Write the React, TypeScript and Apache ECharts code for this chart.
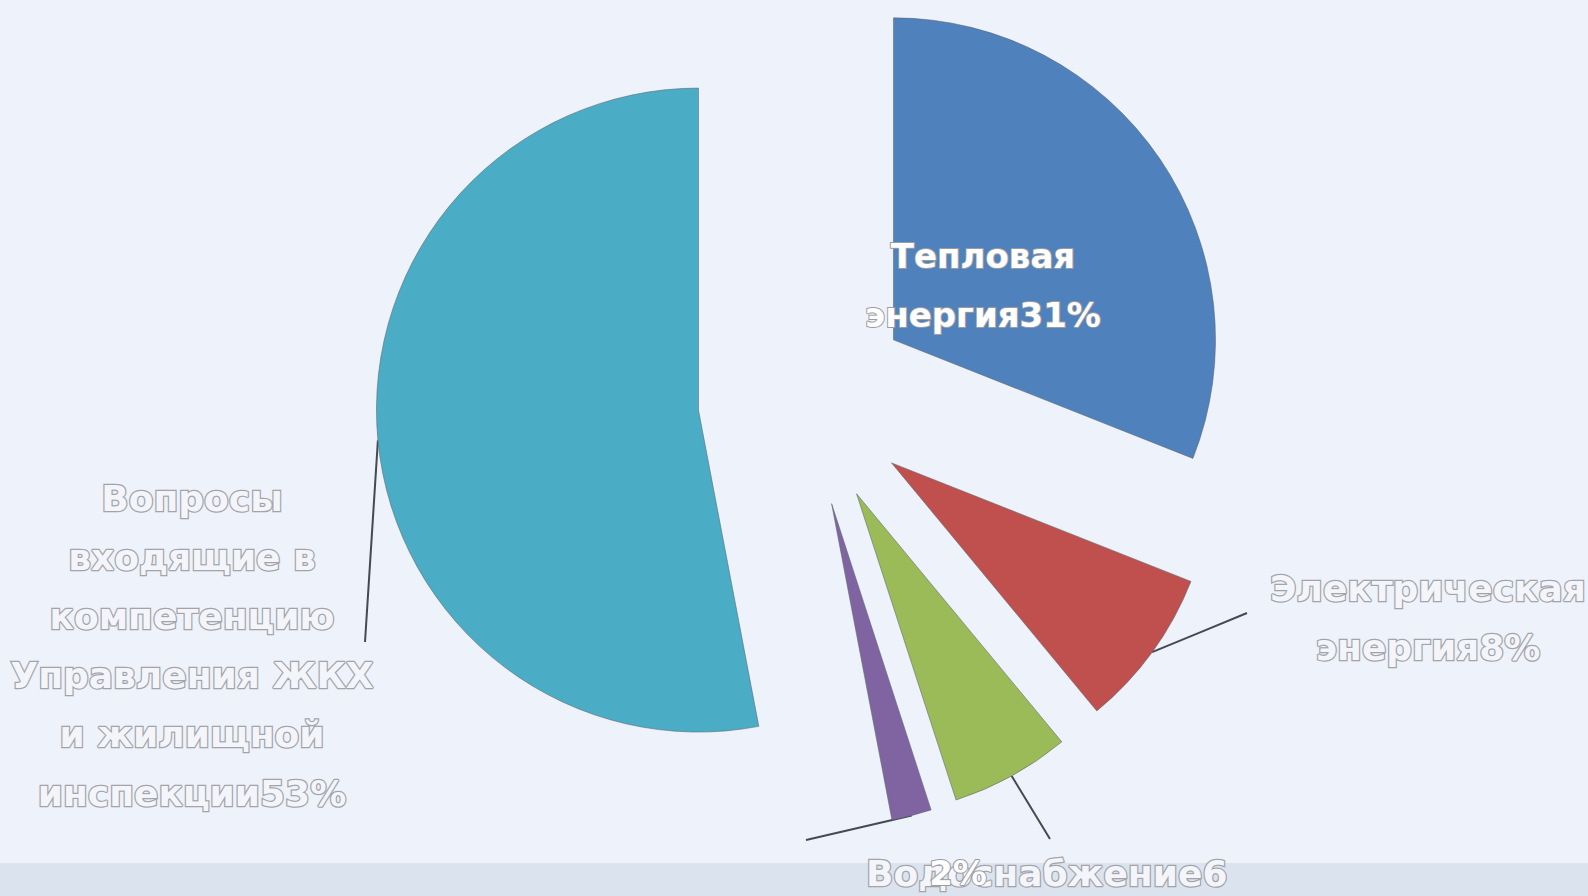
import React, { useEffect, useRef } from 'react';
import * as echarts from 'echarts';

const categories = [
  'Тепловая энергия',
  'Электрическая энергия',
  'Водоснабжение',
  'Водоотведение',
  'Вопросы входящие в компетенцию Управления ЖКХ и жилищной инспекции',
];
const values = [31, 8, 6, 2, 53];
const labelNames = [
  'Тепловая\nэнергия',
  'Электрическая\nэнергия',
  'Водоснабжение',
  '',
  'Вопросы\nвходящие в\nкомпетенцию\nУправления ЖКХ\nи жилищной\nинспекции',
];
// the source cuts the water label just before its percent sign
const labelSuffix = ['%', '%', '', '%', '%'];
const colors = ['#4f81bd', '#c0504d', '#9bbb59', '#8064a2', '#4bacc6'];

const CENTER = [805, 400];
const RADIUS = 322;
const OFFSET = 107;

// label placement (anchor, align) and leader line end points
const labelPos: { x: number; y: number; align: string }[] = [
  { x: 983, y: 285, align: 'center' },
  { x: 1428, y: 618, align: 'center' },
  { x: 866, y: 873, align: 'left' },
  { x: 958, y: 873, align: 'center' },
  { x: 192, y: 646, align: 'center' },
];
const lineEnds: (number[] | null)[] = [null, [1247, 613], [1050, 839], [806, 840], [365, 642]];

const FONT = 'DejaVu Sans';
const hollow = {
  color: '#f3f5fa',
  textBorderColor: '#a2a4a9',
  textBorderWidth: 2.5,
  fontFamily: FONT,
  fontWeight: 'bold' as const,
  fontSize: 36,
  lineHeight: 59,
};
const solid = {
  color: '#ffffff',
  textBorderColor: '#9a9ca2',
  textBorderWidth: 2,
  fontFamily: FONT,
  fontWeight: 'bold' as const,
  fontSize: 34,
  lineHeight: 59,
};

export default function App() {
  const ref = useRef<HTMLDivElement>(null);
  useEffect(() => {
    if (!ref.current) return;
    const chart = echarts.init(ref.current, undefined, { renderer: 'svg' });
    const total = values.reduce((a, b) => a + b, 0);
    const mids: number[] = [];
    let acc = 0;
    values.forEach((v) => {
      const a0 = (acc / total) * 2 * Math.PI;
      acc += v;
      const a1 = (acc / total) * 2 * Math.PI;
      mids.push((a0 + a1) / 2);
    });

    const series = categories.map((_, si) => {
      const m = mids[si];
      const cx = CENTER[0] + Math.sin(m) * OFFSET;
      const cy = CENTER[1] - Math.cos(m) * OFFSET;
      return {
        type: 'pie',
        center: [cx, cy],
        radius: RADIUS,
        startAngle: 90,
        clockwise: true,
        silent: true,
        avoidLabelOverlap: false,
        emphasis: { disabled: true },
        label: {
          show: false,
          formatter: (p: any) => `${labelNames[p.dataIndex]}${p.value}${labelSuffix[p.dataIndex]}`,
        },
        labelLine: { show: false, lineStyle: { color: '#454a52', width: 2 } },
        labelLayout: (p: any) => {
          const i = p.dataIndex;
          const lp = labelPos[i];
          const res: any = { x: lp.x, y: lp.y, align: lp.align, verticalAlign: 'middle' };
          const end = lineEnds[i];
          if (end) {
            const d = OFFSET + RADIUS;
            const sx = CENTER[0] + Math.sin(mids[i]) * d;
            const sy = CENTER[1] - Math.cos(mids[i]) * d;
            res.labelLinePoints = [[sx, sy], [(sx + end[0]) / 2, (sy + end[1]) / 2], end];
          }
          return res;
        },
        data: categories.map((name, i) => {
          if (i !== si) {
            return {
              name,
              value: values[i],
              itemStyle: { color: 'rgba(0,0,0,0)', borderWidth: 0 },
              label: { show: false },
              labelLine: { show: false },
            };
          }
          const style: any = i === 0 || i === 3 ? solid : hollow;
          return {
            name,
            value: values[i],
            itemStyle: { color: colors[i], borderColor: 'rgba(90,100,110,0.55)', borderWidth: 1 },
            label: { show: true, ...style },
            labelLine: { show: lineEnds[i] !== null },
          };
        }),
      };
    });

    chart.setOption({
      animation: false,
      backgroundColor: '#eef2fa',
      graphic: [
        {
          type: 'rect',
          z: -10,
          silent: true,
          shape: { x: 0, y: 863, width: 1588, height: 33 },
          style: { fill: '#dbe3ef' },
        },
      ],
      series,
    });
    return () => chart.dispose();
  }, []);
  return (
    <div
      ref={ref}
      style={{ position: 'fixed', left: 0, top: 0, width: 1588, height: 896 }}
    />
  );
}
